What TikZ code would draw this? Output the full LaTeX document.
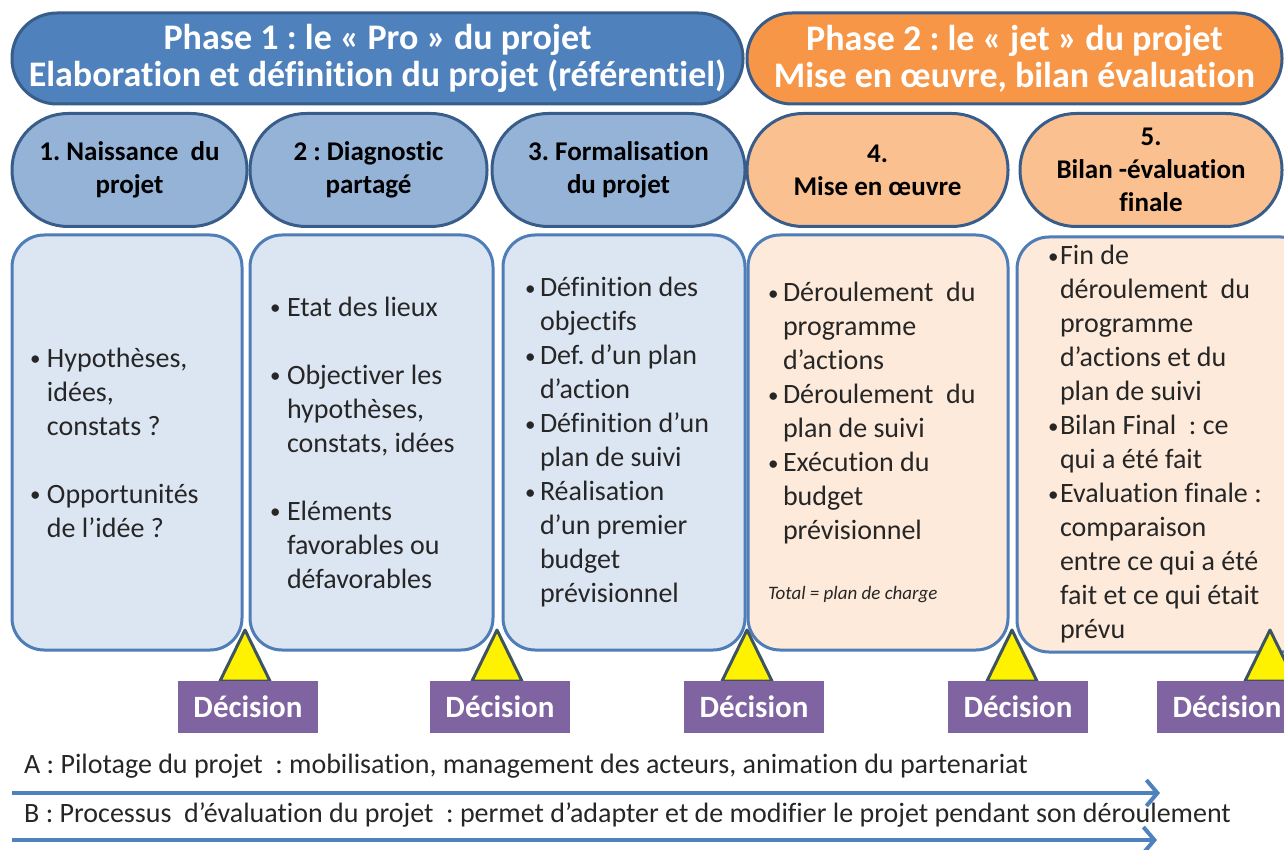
\documentclass[tikz,border=0pt]{standalone}
\usepackage{fontspec}
\setmainfont{Carlito}[Ligatures={NoCommon}]
\usetikzlibrary{arrows.meta}

\definecolor{phaseblue}{HTML}{4F81BD}
\definecolor{phaseorange}{HTML}{F79646}
\definecolor{darkline}{HTML}{385D8A}
\definecolor{stepblue}{HTML}{95B3D7}
\definecolor{steporange}{HTML}{FAC090}
\definecolor{boxblue}{HTML}{DCE6F2}
\definecolor{boxpeach}{HTML}{FDEADA}
\definecolor{boxline}{HTML}{4F7DB8}
\definecolor{triline}{HTML}{3E5560}
\definecolor{decpurple}{HTML}{8064A2}
\definecolor{textgray}{HTML}{262626}

\newcommand{\bl}[1][17pt]{\makebox[#1][l]{\raisebox{1.5pt}{\fontsize{21}{21}\selectfont\textbullet}}}
\newcommand{\cl}[1][17pt]{\hspace*{#1}}
\frenchspacing

\begin{document}
\begin{tikzpicture}[x=1pt, y=-1pt,
    phase/.style={draw=darkline, line width=3pt, rounded corners=45pt, minimum height=91pt,
      align=center, text=white, font=\bfseries\fontsize{36}{40}\selectfont},
    stepnode/.style={draw=darkline, line width=3pt, rounded corners=56pt, minimum height=113pt,
      align=center, font=\bfseries\fontsize{27}{33}\selectfont},
    cbox/.style={draw=boxline, line width=3pt, rounded corners=32pt, minimum height=415pt,
      align=flush left, text=textgray, inner ysep=0pt, font=\fontsize{28}{34}\selectfont},
    tri/.style={draw=triline, fill=yellow, line width=3pt, line join=round},
    decision/.style={fill=decpurple, text=white, minimum width=140pt, minimum height=52pt,
      font=\bfseries\fontsize{31}{31}\selectfont},
    flow/.style={draw=phaseblue, line width=4pt, -{Straight Barb[length=11pt,width=26pt]}},
    note/.style={anchor=west, text=textgray, inner sep=0pt, font=\fontsize{28}{32}\selectfont}]
  \useasboundingbox (0,0) rectangle (1284,850);

  % phases
  \node[phase, fill=phaseblue, minimum width=731pt] (ph1) at (377.5,58.5)
    {\raisebox{-3pt}{Phase 1 : le « Pro » du projet}\\Elaboration et définition du projet (référentiel)};
  \node[phase, fill=phaseorange, minimum width=535pt] (ph2) at (1014.5,58.5)
    {\raisebox{-3pt}{Phase 2 : le « jet » du projet}\\Mise en œuvre, bilan évaluation};

  % steps
  \node[stepnode, fill=stepblue, minimum width=235pt] (s1) at (129.5,170) {1. Naissance\ \ du\\projet};
  \node[stepnode, fill=stepblue, minimum width=237pt] (s2) at (368.5,170) {2 : Diagnostic\\partagé};
  \node[stepnode, fill=stepblue, minimum width=253pt] (s3) at (618.5,170) {3. Formalisation\\du projet};
  \node[stepnode, fill=steporange, minimum width=261pt] (s4) at (877.5,170) {4.\\Mise en œuvre};
  \node[stepnode, fill=steporange, minimum width=262pt] (s5) at (1151,170) {5.\\Bilan -évaluation\\finale};

  % contents
  \node[cbox, fill=boxblue, inner xsep=18pt, text width=194pt] (c1) at (127,442.5)
    {\bl Hypothèses,\\\cl idées,\\\cl constats ?\\[34pt]\bl Opportunités\\\cl de l’idée ?};
  \node[cbox, fill=boxblue, inner xsep=20pt, text width=203pt] (c2) at (371.5,442.5)
    {\bl Etat des lieux\\[34pt]\bl Objectiver les\\\cl hypothèses,\\\cl constats, idées\\[34pt]%
     \bl Eléments\\\cl favorables ou\\\cl défavorables};
  \node[cbox, fill=boxblue, inner xsep=22pt, text width=198pt] (c3) at (624,442.5)
    {\bl[15pt]Définition des\\\cl[15pt]objectifs\\\bl[15pt]Def. d'un plan\\\cl[15pt]d'action\\%
     \bl[15pt]Définition d'un\\\cl[15pt]plan de suivi\\\bl[15pt]Réalisation\\\cl[15pt]d'un premier\\%
     \cl[15pt]budget\\\cl[15pt]prévisionnel};
  \node[cbox, fill=boxpeach, inner xsep=20pt, text width=220pt] (c4) at (878,442.5)
    {\bl[15pt]Déroulement\ \ du\\\cl[15pt]programme\\\cl[15pt]d’actions\\\bl[15pt]Déroulement\ \ du\\%
     \cl[15pt]plan de suivi\\\bl[15pt]Exécution du\\\cl[15pt]budget\\\cl[15pt]prévisionnel\\[26pt]%
     {\fontsize{19}{21}\selectfont\itshape Total = plan de charge}};
  \node[cbox, fill=boxpeach, inner xsep=31pt, text width=234pt] (c5) at (1165,444.5)
    {\bl[12pt]Fin de\\\cl[12pt]déroulement\ \ du\\\cl[12pt]programme\\\cl[12pt]d’actions et du\\%
     \cl[12pt]plan de suivi\\\bl[12pt]Bilan Final\ \ : ce\\\cl[12pt]qui a été fait\\%
     \bl[12pt]Evaluation finale :\\\cl[12pt]comparaison\\\cl[12pt]entre ce qui a été\\%
     \cl[12pt]fait et ce qui était\\\cl[12pt]prévu};

  % decisions
  \foreach \x in {245,497,747,1012,1270}
    \draw[tri] (\x,630) -- ++(25,51) -- ++(-50,0) -- cycle;
  \foreach \x/\n in {248/1,500/2,754/3,1018/4,1227/5}
    \node[decision] (dec\n) at (\x,707) {Décision};

  % transverse processes
  \node[note] (pA) at (24,766) {A : Pilotage du projet\ \ : mobilisation, management des acteurs, animation du partenariat};
  \coordinate (a0) at (12,793);
  \coordinate (a1) at (1160,793);
  \draw[flow] (a0) -- (a1);
  \node[note] (pB) at (24,815) {B : Processus\ \ d’évaluation du projet\ \ : permet d’adapter et de modifier le projet pendant son déroulement};
  \coordinate (b0) at (12,840);
  \coordinate (b1) at (1157,840);
  \draw[flow] (b0) -- (b1);
\end{tikzpicture}
\end{document}
